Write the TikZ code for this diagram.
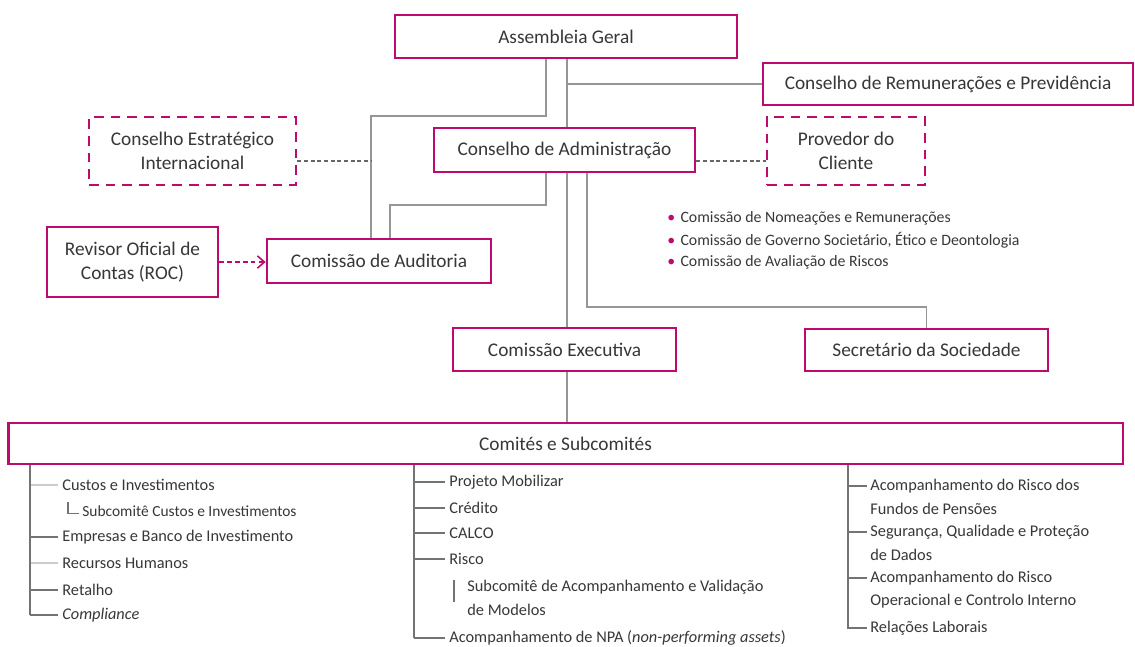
\documentclass[tikz,border=0pt]{standalone}
\usepackage{fontspec}
\setmainfont{Carlito}
\usetikzlibrary{arrows.meta,positioning}
\definecolor{orgpink}{RGB}{188,10,110}
\definecolor{conngray}{RGB}{150,150,150}
\definecolor{txtgray}{RGB}{55,55,55}

\begin{document}
\begin{tikzpicture}[x=0.02cm,y=-0.02cm,>={Straight Barb[length=4pt,width=7pt]},
  every node/.style={text=txtgray},
  box/.style={draw=orgpink,line width=1.6pt,fill=white,align=center,inner sep=0pt,font=\fontsize{11}{14}\selectfont},
  dbox/.style={box,dash pattern=on 5.5pt off 4pt},
  conn/.style={conngray,line width=0.9pt},
  dconn/.style={black!60,line width=0.6pt,dash pattern=on 2.2pt off 1.6pt},
  tline/.style={black!55,line width=0.7pt},
  item/.style={anchor=west,inner sep=0pt,font=\fontsize{9.3}{13.6}\selectfont},
  bul/.style={anchor=west,inner sep=0pt,font=\fontsize{9}{10}\selectfont}]
\useasboundingbox (0,0) rectangle (1135,646);

% governing bodies
\node[box,minimum width=6.84cm,minimum height=0.86cm] (ag) at (566,36.5) {Assembleia Geral};
\node[box,minimum width=7.40cm,minimum height=0.84cm] (crp) at (948,84) {Conselho de Remunerações e Previdência};
\node[dbox,minimum width=4.14cm,minimum height=1.36cm] (cei) at (192.5,151) {Conselho Estratégico\\Internacional};
\node[box,minimum width=5.22cm,minimum height=0.88cm] (ca) at (564.5,150) {Conselho de Administração};
\node[dbox,minimum width=3.16cm,minimum height=1.36cm] (pc) at (846,151) {Provedor do\\Cliente};
\node[box,minimum width=3.42cm,minimum height=1.40cm] (roc) at (132.5,262) {Revisor Oficial de\\Contas (ROC)};
\node[box,minimum width=4.48cm,minimum height=0.88cm] (cau) at (379,261) {Comissão de Auditoria};
\node[box,minimum width=4.46cm,minimum height=0.86cm] (ce) at (564.5,349.5) {Comissão Executiva};
\node[box,minimum width=4.86cm,minimum height=0.84cm] (ss) at (926.5,350) {Secretário da Sociedade};
\node[box,minimum width=22.3cm,minimum height=0.82cm] (cs) at (565.5,443.5) {Comités e Subcomités};

% connectors
\draw[conn] (ag.south -| 546,0) -- (546,116) -| (cau.north -| 371,0);
\draw[conn] (ag.south -| 567,0) -- (ca.north -| 567,0);
\draw[conn] (ag.south -| 567,0) |- (crp.west);
\draw[conn] (ca.south -| 546,0) -- (546,205) -| (cau.north -| 390,0);
\draw[conn] (ca.south -| 567,0) -- (ce.north -| 567,0);
\draw[conn] (ca.south -| 587,0) -- (587,307) -| (ss.north);
\draw[conn] (ce.south -| 567,0) -- (cs.north -| 567,0);
\draw[dconn] (cei.east |- 0,161) -- (371,161);
\draw[dconn] (ca.east |- 0,161) -- (pc.west |- 0,161);
\draw[orgpink,line width=0.9pt,dash pattern=on 2.5pt off 2pt,->] (roc.east) -- (roc.east -| cau.west);

% board committees
\foreach \t/\y [count=\i] in {Comissão de Nomeações e Remunerações/218, {Comissão de Governo Societário, Ético e Deontologia}/240, Comissão de Avaliação de Riscos/262}
  \node[bul] (b\i) at (667,\y) {\textcolor{orgpink}{•}\hspace{3pt}\t};

% left list
\foreach \t/\y/\c [count=\i] in {Custos e Investimentos/485/black!20, Empresas e Banco de Investimento/537/black!55, Recursos Humanos/563/black!20, Retalho/590/black!55, \textit{Compliance}/615/black!55}
  {\node[item] (l\i) at (62,\y) {\t}; \draw[tline,draw=\c] (l\i.west -| 30,0) -- ([xshift=-2.5pt]l\i.west);}
\node[item,font=\fontsize{8.8}{10}\selectfont] (lsub) at (82,511) {Subcomitê Custos e Investimentos};
\draw[tline] ([yshift=5pt]lsub.west -| 68,0) |- ([xshift=-1.5pt,yshift=-1.5pt]lsub.west);
\draw[tline] (cs.south -| 30,0) -- (l5.west -| 30,0);

% middle list
\foreach \t/\y [count=\i] in {Projeto Mobilizar/482, Crédito/508, CALCO/533, Risco/559, Acompanhamento de NPA (\textit{non-performing assets})/638}
  {\node[item] (m\i) at (449,\y) {\t}; \draw[tline] (m\i.west -| 414,0) -- ([xshift=-2.5pt]m\i.west);}
\node[item,align=left,anchor=north west] (msub) at (467,580) {Subcomitê de  Acompanhamento e Validação\\de Modelos};
\draw[tline] (msub.north west -| 454,0) -- ++(0,22);
\draw[tline] (cs.south -| 414,0) -- (m5.west -| 414,0);

% right list
\foreach \a/\b/\y [count=\i] in {Acompanhamento do Risco dos/Fundos de Pensões/486, {Segurança, Qualidade e Proteção}/de Dados/532, Acompanhamento do Risco/Operacional e Controlo Interno/578}
  {\node[item] (r\i) at (870,\y) {\a}; \node[item] (r\i b) at (870,\y+23) {\b};
   \draw[tline] (r\i.west -| 848,0) -- ([xshift=-1.5pt]r\i.west);}
\node[item] (r4) at (870,628) {Relações Laborais};
\draw[tline] (cs.south -| 848,0) |- ([xshift=-1.5pt]r4.west);
\end{tikzpicture}
\end{document}
